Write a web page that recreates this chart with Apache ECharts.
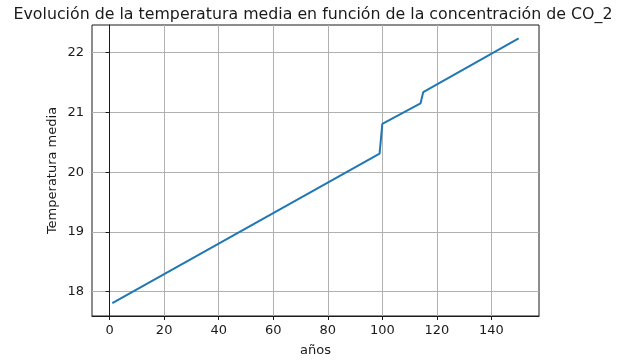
<!DOCTYPE html>
<html><head><meta charset="utf-8">
<script src="https://cdn.jsdelivr.net/npm/echarts@6/dist/echarts.min.js"></script>
<style>html,body{margin:0;padding:0;background:#fff}#c{width:617px;height:361px}</style>
</head><body><div id="c"></div>
<script>
const years = [1, 99, 100, 114, 115, 150];
const temps = [17.81, 20.31, 20.81, 21.15, 21.34, 22.24];
const xTicks = [0, 20, 40, 60, 80, 100, 120, 140];
const yTicks = [18, 19, 20, 21, 22];
const titleText = 'Evolución de la temperatura media en función de la concentración de CO_2';
const xName = 'años';
const yName = 'Temperatura media';

const chart = echarts.init(document.getElementById('c'), null, {renderer: 'canvas'});
const font = 'DejaVu Sans';
const dark = '#1a1a1a';
chart.setOption({
  animation: false,
  backgroundColor: '#fff',
  title: {
    text: titleText, left: 308, top: 2, textAlign: 'center',
    textStyle: {fontFamily: font, fontSize: 15.8, fontWeight: 'normal', color: dark}
  },
  grid: {left: 92, right: 78, top: 25, bottom: 45, show: true, borderColor: dark, borderWidth: 1,
         containLabel: false, outerBoundsMode: 'none'},
  xAxis: {
    type: 'value', min: -6.45, max: 157.45,
    name: xName, nameLocation: 'middle', nameGap: 28, nameMoveOverlap: false,
    nameTextStyle: {fontFamily: font, fontSize: 13, color: dark},
    axisLine: {show: true, lineStyle: {color: dark, width: 1}},
    axisTick: {show: true, length: 4, lineStyle: {color: dark}, customValues: xTicks},
    axisLabel: {customValues: xTicks, fontFamily: font, fontSize: 13, color: dark, margin: 8},
    splitLine: {show: true, lineStyle: {color: '#b0b0b0', width: 1}}
  },
  yAxis: {
    type: 'value', min: 17.594, max: 22.463,
    name: yName, nameLocation: 'middle', nameGap: 33, nameRotate: 90, nameMoveOverlap: false,
    nameTextStyle: {fontFamily: font, fontSize: 13, color: dark},
    axisLine: {show: true, lineStyle: {color: dark, width: 1}},
    axisTick: {show: true, length: 4, lineStyle: {color: dark}, customValues: yTicks},
    axisLabel: {customValues: yTicks, fontFamily: font, fontSize: 13, color: dark, margin: 8},
    splitLine: {show: true, lineStyle: {color: '#b0b0b0', width: 1}}
  },
  series: [{
    type: 'line', data: years.map((y, i) => [y, temps[i]]),
    showSymbol: false, symbol: 'none',
    lineStyle: {color: '#1f77b4', width: 2}
  }]
});
</script></body></html>
